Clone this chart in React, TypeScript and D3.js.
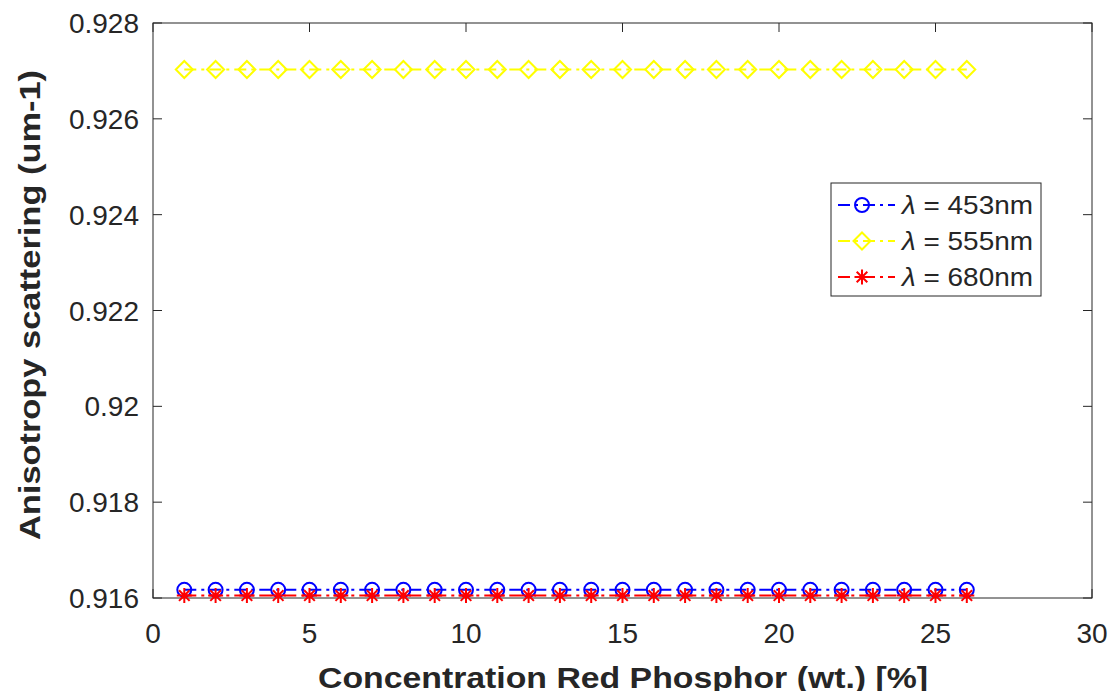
import { useEffect, useRef } from "react";
import * as d3 from "d3";

const concentration = d3.range(1, 27); // 1..26 wt.%
const g453 = concentration.map(() => 0.91617);
const g555 = concentration.map(() => 0.92703);
const g680 = concentration.map(() => 0.91605);

const xTicks = [0, 5, 10, 15, 20, 25, 30];
const yTicks = [0.916, 0.918, 0.92, 0.922, 0.924, 0.926, 0.928];

const series = [
  { label: "453nm", values: g453, color: "#0000ff", marker: "circle" },
  { label: "555nm", values: g555, color: "#ffff00", marker: "diamond" },
  { label: "680nm", values: g680, color: "#ff0000", marker: "star" },
];

const App = () => {
  const svgRef = useRef<SVGSVGElement | null>(null);

  useEffect(() => {
    const svg = d3.select(svgRef.current);
    svg.selectAll("*").remove();

    const left = 153, right = 1092, top = 23, bottom = 598;
    const x = d3.scaleLinear().domain([0, 30]).range([left, right]);
    const y = d3.scaleLinear().domain([0.916, 0.928]).range([bottom, top]);
    const font = "Helvetica, Arial, 'Liberation Sans', sans-serif";
    const ink = "#262626";

    svg.append("rect").attr("width", 1118).attr("height", 699).attr("fill", "#fff");

    // frame
    svg.append("rect")
      .attr("x", left).attr("y", top)
      .attr("width", right - left).attr("height", bottom - top)
      .attr("fill", "none").attr("stroke", ink).attr("stroke-width", 1);

    // ticks point inwards, on all four sides
    const tl = 9;
    xTicks.forEach((t) => {
      svg.append("line").attr("x1", x(t)).attr("x2", x(t)).attr("y1", bottom).attr("y2", bottom - tl).attr("stroke", ink);
      svg.append("line").attr("x1", x(t)).attr("x2", x(t)).attr("y1", top).attr("y2", top + tl).attr("stroke", ink);
      svg.append("text").attr("x", x(t)).attr("y", 643).attr("text-anchor", "middle")
        .attr("font-family", font).attr("font-size", 28).attr("fill", ink).text(String(t));
    });
    yTicks.forEach((t) => {
      svg.append("line").attr("x1", left).attr("x2", left + tl).attr("y1", y(t)).attr("y2", y(t)).attr("stroke", ink);
      svg.append("line").attr("x1", right).attr("x2", right - tl).attr("y1", y(t)).attr("y2", y(t)).attr("stroke", ink);
      svg.append("text").attr("x", 139).attr("y", y(t) + 10).attr("text-anchor", "end")
        .attr("font-family", font).attr("font-size", 28).attr("fill", ink).text(d3.format("")(t));
    });

    svg.append("text").attr("x", 623).attr("y", 688).attr("text-anchor", "middle")
      .attr("font-family", font).attr("font-size", 29).attr("font-weight", "bold").attr("fill", ink)
      .attr("textLength", 610).attr("lengthAdjust", "spacingAndGlyphs")
      .text("Concentration Red Phosphor (wt.) [%]");
    svg.append("text").attr("transform", `translate(40,305) rotate(-90)`)
      .attr("text-anchor", "middle")
      .attr("font-family", font).attr("font-size", 30).attr("font-weight", "bold").attr("fill", ink)
      .attr("textLength", 470).attr("lengthAdjust", "spacingAndGlyphs")
      .text("Anisotropy scattering (um-1)");

    const drawMarker = (g: any, kind: string, cx: number, cy: number, color: string) => {
      if (kind === "circle") {
        g.append("circle").attr("cx", cx).attr("cy", cy).attr("r", 7)
          .attr("fill", "none").attr("stroke", color).attr("stroke-width", 2);
      } else if (kind === "diamond") {
        const r = 8.5;
        g.append("path").attr("d", `M${cx},${cy - r}L${cx + r},${cy}L${cx},${cy + r}L${cx - r},${cy}Z`)
          .attr("fill", "none").attr("stroke", color).attr("stroke-width", 2);
      } else {
        const r = 7.5;
        const p = d3.path();
        for (let i = 0; i < 4; i++) {
          const a = (i * Math.PI) / 4;
          p.moveTo(cx - r * Math.cos(a), cy - r * Math.sin(a));
          p.lineTo(cx + r * Math.cos(a), cy + r * Math.sin(a));
        }
        g.append("path").attr("d", p.toString()).attr("stroke", color).attr("stroke-width", 2);
      }
    };

    const line = d3.line<number>().x((_, i) => x(concentration[i])).y((d) => y(d));
    series.forEach((s) => {
      svg.append("path").datum(s.values).attr("d", line).attr("fill", "none")
        .attr("stroke", s.color).attr("stroke-width", 2).attr("stroke-dasharray", "12,5,3,5");
      const g = svg.append("g");
      s.values.forEach((v, i) => drawMarker(g, s.marker, x(concentration[i]), y(v), s.color));
    });

    // legend
    const lx = 831, ly = 183, lw = 210, lh = 113;
    svg.append("rect").attr("x", lx).attr("y", ly).attr("width", lw).attr("height", lh)
      .attr("fill", "#fff").attr("stroke", ink).attr("stroke-width", 1);
    series.forEach((s, i) => {
      const cy = ly + 22 + i * 36;
      svg.append("line").attr("x1", lx + 7).attr("x2", lx + 64).attr("y1", cy).attr("y2", cy)
        .attr("stroke", s.color).attr("stroke-width", 2).attr("stroke-dasharray", "12,5,3,5");
      drawMarker(svg, s.marker, lx + 31, cy, s.color);
      const t = svg.append("text").attr("x", lx + 71).attr("y", cy + 9)
        .attr("font-family", font).attr("font-size", 25).attr("fill", ink)
        .attr("textLength", 131).attr("lengthAdjust", "spacingAndGlyphs");
      t.append("tspan").attr("font-style", "italic").text("λ");
      t.append("tspan").text(` = ${s.label}`);
    });
  }, []);

  return <svg ref={svgRef} width={1118} height={699} style={{ display: "block", margin: -8 }}></svg>;
};

export default App;
